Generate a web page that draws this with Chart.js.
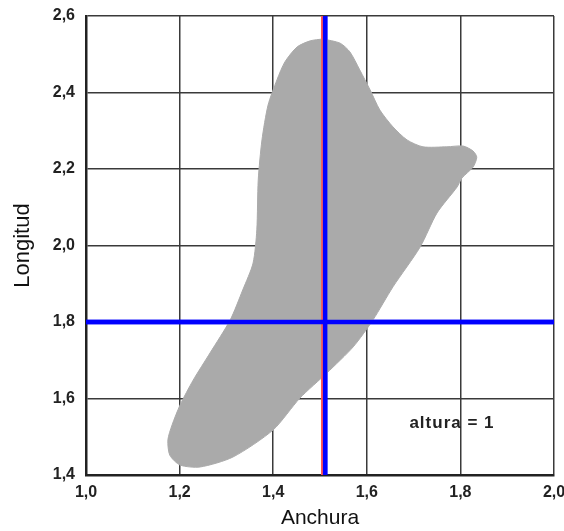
<!DOCTYPE html>
<html lang="es">
<head>
  <meta charset="UTF-8" />
  <title>Anchura / Longitud</title>
  <style>
    html, body { margin: 0; padding: 0; background: #fff; }
    #wrap { width: 564px; height: 531px; position: relative; }
  </style>
</head>
<body>
  <div id="wrap">
    <canvas id="shapeChart"></canvas>
  </div>

  <script src="https://cdn.jsdelivr.net/npm/chart.js"></script>
  <script>
    // tick labels (comma decimals, as in the original)
    const xTickLabels = ['1,0', '1,2', '1,4', '1,6', '1,8', '2,0'];
    const yTickLabels = ['1,4', '1,6', '1,8', '2,0', '2,2', '2,4', '2,6'];

    // outline of the grey region (clockwise from the top)
    const blobX = [1.506, 1.543, 1.564, 1.585, 1.607, 1.628, 1.656, 1.686, 1.720, 1.771,
                   1.806, 1.827, 1.835, 1.827, 1.803, 1.793, 1.750, 1.714, 1.656, 1.613,
                   1.571, 1.515, 1.457, 1.400, 1.314, 1.244, 1.201, 1.179, 1.175, 1.184,
                   1.201, 1.229, 1.265, 1.308, 1.335, 1.357, 1.365, 1.368, 1.376, 1.389,
                   1.408, 1.425, 1.451, 1.479, 1.506];
    const blobY = [2.540, 2.529, 2.506, 2.459, 2.407, 2.354, 2.310, 2.276, 2.258, 2.258,
                   2.260, 2.247, 2.231, 2.205, 2.176, 2.153, 2.085, 1.996, 1.892, 1.805,
                   1.735, 1.667, 1.601, 1.518, 1.447, 1.421, 1.426, 1.452, 1.492, 1.531,
                   1.583, 1.648, 1.719, 1.805, 1.884, 1.954, 2.041, 2.171, 2.276, 2.367,
                   2.433, 2.480, 2.519, 2.535, 2.540];

    // cross lines
    const anchuraMark = 1.511;
    const anchuraMarkRed = 1.5055;
    const longitudMark = 1.8;

    // annotation
    const noteText = 'altura = 1';
    const notePos = [1.782, 1.536];

    const FONT = '"Liberation Sans", Arial, sans-serif';

    const blobPoints = blobX.map((x, i) => ({ x: x, y: blobY[i] }));

    // redraw the cross lines above the grid and write the note
    const overlayPlugin = {
      id: 'overlay',
      afterDraw(chart) {
        const ctx = chart.ctx;
        [1, 2, 3].forEach(i => {
          const meta = chart.getDatasetMeta(i);
          if (meta.dataset) meta.dataset.draw(ctx, chart.chartArea);
        });
        const xs = chart.scales.x, ys = chart.scales.y;
        ctx.save();
        ctx.font = 'bold 17px ' + FONT;
        ctx.letterSpacing = '1px';
        ctx.fillStyle = '#222';
        ctx.textAlign = 'center';
        ctx.textBaseline = 'middle';
        ctx.fillText(noteText, xs.getPixelForValue(notePos[0]), ys.getPixelForValue(notePos[1]));
        ctx.restore();
      }
    };

    new Chart(document.getElementById('shapeChart'), {
      type: 'scatter',
      data: {
        datasets: [
          {
            data: blobPoints,
            showLine: true,
            fill: 'shape',
            backgroundColor: '#aaaaaa',
            borderColor: '#aaaaaa',
            borderWidth: 1,
            tension: 0.25,
            pointRadius: 0
          },
          {
            data: [{ x: anchuraMarkRed, y: 1.4 }, { x: anchuraMarkRed, y: 2.6 }],
            showLine: true,
            borderColor: 'rgba(255, 80, 80, 0.85)',
            borderWidth: 3,
            pointRadius: 0
          },
          {
            data: [{ x: anchuraMark, y: 1.4 }, { x: anchuraMark, y: 2.6 }],
            showLine: true,
            borderColor: '#0000ff',
            borderWidth: 4.5,
            pointRadius: 0
          },
          {
            data: [{ x: 1.0, y: longitudMark }, { x: 2.0, y: longitudMark }],
            showLine: true,
            borderColor: '#0000ff',
            borderWidth: 4.5,
            pointRadius: 0
          }
        ]
      },
      options: {
        responsive: true,
        maintainAspectRatio: false,
        animation: false,
        layout: { padding: { top: 16, right: 10, left: 0, bottom: 0 } },
        plugins: {
          legend: { display: false },
          tooltip: { enabled: false }
        },
        scales: {
          x: {
            type: 'linear',
            min: 1.0,
            max: 2.0,
            z: 1,
            afterFit: s => { s.height = 56; s.paddingLeft = 0; s.paddingRight = 0; },
            ticks: {
              stepSize: 0.2,
              padding: 8,
              color: '#222',
              font: { family: FONT, size: 16, weight: 'bold' },
              callback: (v, i) => xTickLabels[i]
            },
            grid: { color: '#3a3a3a', lineWidth: 1.5, drawTicks: false },
            border: { color: '#222', width: 2.5 },
            title: {
              display: true,
              text: 'Anchura',
              color: '#111',
              font: { family: FONT, size: 21 },
              padding: { top: 0, bottom: 0 }
            }
          },
          y: {
            type: 'linear',
            min: 1.4,
            max: 2.6,
            z: 1,
            afterFit: s => { s.width = 86; s.paddingTop = 0; s.paddingBottom = 0; },
            ticks: {
              stepSize: 0.2,
              padding: 11,
              color: '#222',
              font: { family: FONT, size: 16, weight: 'bold' },
              callback: (v, i) => yTickLabels[i]
            },
            grid: { color: '#3a3a3a', lineWidth: 1.5, drawTicks: false },
            border: { color: '#222', width: 2.5 },
            title: {
              display: true,
              text: 'Longitud',
              color: '#111',
              font: { family: FONT, size: 22 },
              padding: { top: 10, bottom: 0 }
            }
          }
        }
      },
      plugins: [overlayPlugin]
    });
  </script>
</body>
</html>
